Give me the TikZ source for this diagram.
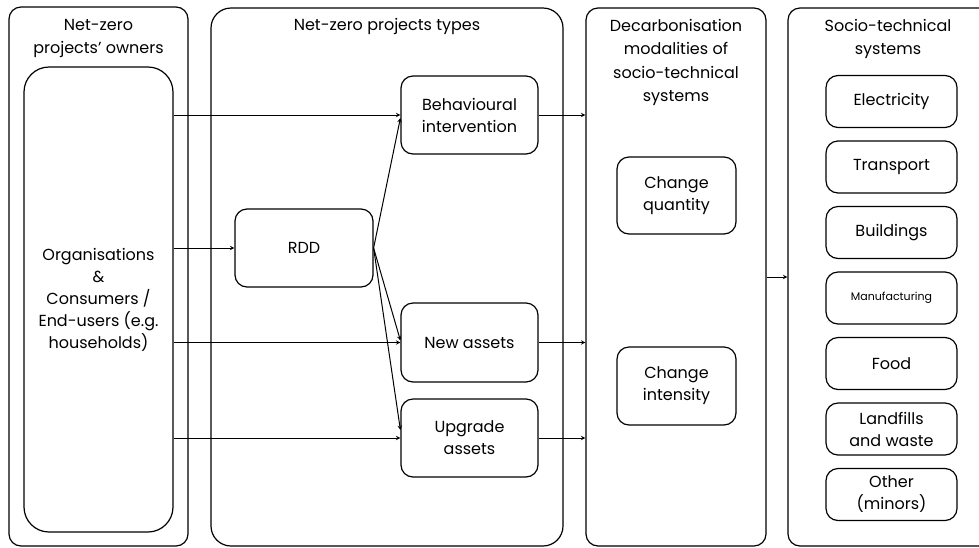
\documentclass[tikz,border=0pt]{standalone}
\usepackage{fontspec}
\setmainfont{Poppins}
\usepackage{tikz}
\usetikzlibrary{arrows, positioning}
\tikzstyle{panel} = [rectangle, rounded corners=12pt, draw=black, line width=1.2pt, fill=white]
\tikzstyle{item} = [rectangle, rounded corners=12pt, draw=black, line width=1.2pt, align=center, font=\fontsize{16}{22}\selectfont]
\tikzstyle{sector} = [item, minimum width=131pt, minimum height=52pt, inner sep=2pt]
\tikzstyle{title} = [align=center, font=\fontsize{16}{23.5}\selectfont]
\tikzstyle{arrow} = [line width=1pt,->,>=stealth]

\begin{document}
\begin{tikzpicture}[x=1pt, y=-1pt]
    \useasboundingbox (0,0) rectangle (979,547);
    \begin{scope}
    \clip (0,0) rectangle (979,547);
    % Panels
    \node (owners) [panel, minimum width=179pt, minimum height=539pt] at (98.5,276.5) {};
    \node (types) [panel, rounded corners=20pt, minimum width=352pt, minimum height=538pt] at (387,277) {};
    \node (modal) [panel, minimum width=180pt, minimum height=538pt] at (676,277) {};
    \node (systems) [panel, minimum width=230pt, minimum height=538pt] at (903,277) {};
    \end{scope}

    % Panel titles
    \node (ownerstitle) [title] at (98.5,38.5) {Net-zero\\projects' owners};
    \node (typestitle) [title] at (387,26) {Net-zero projects types};
    \node (modaltitle) [title] at (676,62.5) {Decarbonisation\\modalities of\\socio-technical\\systems};
    \node (systemstitle) [title] at (888,39) {Socio-technical\\systems};

    % Owners
    \node (orgs) [item, rounded corners=25pt, minimum width=149pt, minimum height=465pt] at (98.5,299.5) {Organisations\\\&\\Consumers /\\End-users (e.g.\\households)};

    % Project types
    \node (behav) [item, minimum width=137pt, minimum height=78pt] at (469.5,115) {Behavioural\\intervention};
    \node (rdd) [item, minimum width=138pt, minimum height=78pt] at (304,248) {RDD};
    \node (newassets) [item, minimum width=137pt, minimum height=79pt] at (469.5,342.5) {New assets};
    \node (upgrade) [item, minimum width=137pt, minimum height=78pt] at (469.5,438) {Upgrade\\assets};

    % Modalities
    \node (quantity) [item, minimum width=119pt, minimum height=77pt] at (676.5,195.5) {Change\\quantity};
    \node (intensity) [item, minimum width=119pt, minimum height=78pt] at (676.5,386) {Change\\intensity};

    % Socio-technical systems
    \node (electricity) [sector] at (891.5,101.5) {Electricity};
    \node (transport) [sector, below=12.3pt of electricity] {Transport};
    \node (buildings) [sector, below=12.3pt of transport] {Buildings};
    \node (manufacturing) [sector, below=12.3pt of buildings, font=\fontsize{11}{14}\selectfont] {Manufacturing};
    \node (food) [sector, below=12.3pt of manufacturing] {Food};
    \node (landfills) [sector, below=12.3pt of food] {Landfills\\and waste};
    \node (other) [sector, below=12.3pt of landfills] {Other\\(minors)};

    % Arrows
    \draw [arrow] (orgs.east |- behav) -- (behav);
    \draw [arrow] (orgs.east |- rdd) -- (rdd);
    \draw [arrow] (orgs.east |- newassets) -- (newassets);
    \draw [arrow] (orgs.east |- upgrade) -- (upgrade);

    \draw [arrow] (rdd.east) -- ([yshift=-3pt]behav.west);
    \draw [arrow] (rdd.east) -- ([yshift=2pt]newassets.west);
    \draw [arrow] (rdd.east) -- ([yshift=8pt]upgrade.west);

    \draw [arrow] (behav.east) -- (behav.east -| modal.west);
    \draw [arrow] (newassets.east) -- (newassets.east -| modal.west);
    \draw [arrow] (upgrade.east) -- (upgrade.east -| modal.west);

    \draw [arrow] (modal.east) -- (modal.east -| systems.west);
\end{tikzpicture}
\end{document}
